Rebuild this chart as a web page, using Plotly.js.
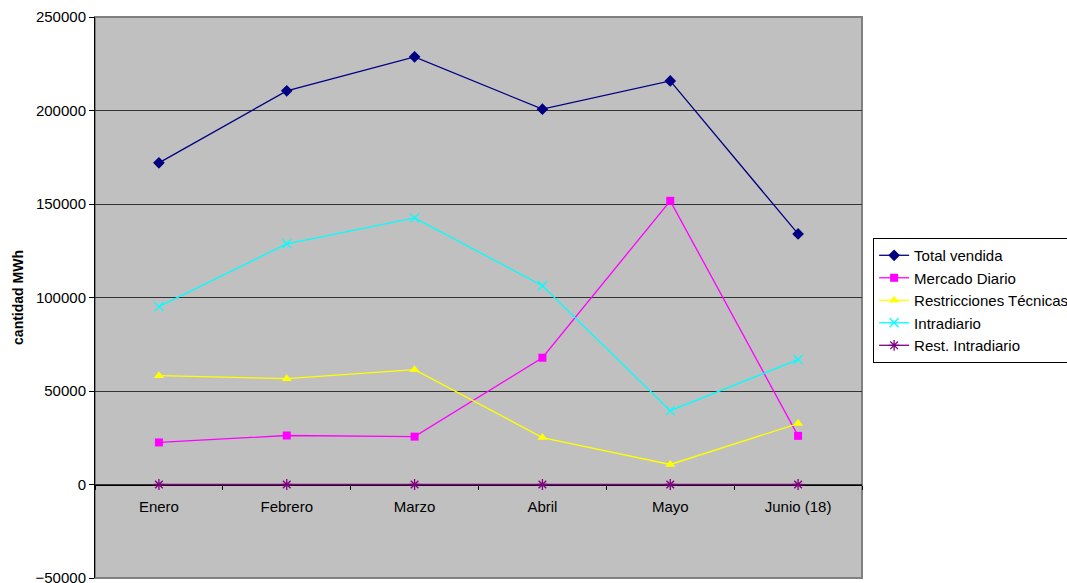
<!DOCTYPE html>
<html>
<head>
<meta charset="utf-8">
<script src="https://cdn.plot.ly/plotly-3.0.1.min.js"></script>
<style>
  html, body { margin: 0; padding: 0; background: #ffffff; }
  #chart { width: 1067px; height: 583px; }
</style>
</head>
<body>
<div id="chart"></div>
<script>
// Months of the period
const months = ['Enero', 'Febrero', 'Marzo', 'Abril', 'Mayo', 'Junio (18)'];

// Energy sold per market, MWh
const totalVendida = [172000, 210500, 228700, 200700, 215800, 134000];
const mercadoDiario = [22500, 26200, 25600, 67800, 151700, 26000];
const restriccionesTecnicas = [58200, 56600, 61400, 25100, 10700, 32600];
const intradiario = [95100, 128700, 142600, 106300, 39500, 66800];
const restIntradiario = [0, 0, 0, 0, 0, 0];

const seriesNames = ['Total vendida', 'Mercado Diario', 'Restricciones Técnicas', 'Intradiario', 'Rest. Intradiario'];
const seriesValues = [totalVendida, mercadoDiario, restriccionesTecnicas, intradiario, restIntradiario];

const styles = [
  { color: '#000080', symbol: 'diamond', size: 9, open: false },
  { color: '#FF00FF', symbol: 'square', size: 8, open: false },
  { color: '#FFFF00', symbol: 'triangle-up', size: 9, open: false },
  { color: '#00FFFF', symbol: 'x-thin-open', size: 9, open: true },
  { color: '#800080', symbol: 'asterisk-open', size: 9, open: true }
];

const traces = seriesNames.map((name, i) => {
  const s = styles[i];
  return {
    type: 'scatter',
    mode: 'lines+markers',
    name: name,
    x: months,
    y: seriesValues[i],
    line: { color: s.color, width: 1.3 },
    marker: s.open
      ? { symbol: s.symbol, size: s.size, color: s.color, line: { color: s.color, width: 1.3 } }
      : { symbol: s.symbol, size: s.size, color: s.color, line: { width: 0 } },
    cliponaxis: false,
    legendgroup: 'g' + i
  };
});

const yMin = -50000, yMax = 250000;
const font = { family: 'Liberation Sans, Arial, sans-serif', size: 15, color: '#000000' };

const layout = {
  width: 1067,
  height: 583,
  margin: { l: 95, r: 205, t: 17, b: 5, pad: 0, autoexpand: false },
  paper_bgcolor: '#ffffff',
  plot_bgcolor: '#C0C0C0',
  font: font,
  showlegend: true,
  legend: {
    x: 1.0145, xanchor: 'left',
    y: 0.606, yanchor: 'top',
    bgcolor: '#ffffff',
    bordercolor: '#000000',
    borderwidth: 1,
    font: font,
    traceorder: 'grouped',
    tracegroupgap: 0,
    itemwidth: 30
  },
  xaxis: {
    type: 'category',
    range: [-0.5, 5.5],
    anchor: 'free',
    position: (0 - yMin) / (yMax - yMin),
    showgrid: false,
    zeroline: false,
    showline: true,
    linecolor: '#000000',
    linewidth: 1,
    ticks: 'outside',
    tickson: 'boundaries',
    ticklen: 4,
    tickcolor: '#000000',
    tickfont: font,
    ticklabelstandoff: 8,
    layer: 'below traces',
    fixedrange: true
  },
  yaxis: {
    range: [yMin, yMax],
    dtick: 50000,
    tickformat: 'd',
    showgrid: true,
    gridcolor: '#333333',
    gridwidth: 1,
    zeroline: false,
    showline: true,
    linecolor: '#000000',
    linewidth: 1,
    ticks: 'outside',
    ticklen: 5,
    tickcolor: '#000000',
    tickfont: font,
    ticklabeloverflow: 'allow',
    title: { text: 'cantidad MWh', font: { family: font.family, size: 14, color: '#000000', weight: 'bold' }, standoff: 8 },
    fixedrange: true
  },
  shapes: [
    {
      type: 'rect', xref: 'paper', yref: 'paper',
      x0: 0, x1: 1, y0: 0, y1: 1,
      line: { color: '#808080', width: 2 },
      fillcolor: 'rgba(0,0,0,0)',
      layer: 'below'
    }
  ]
};

Plotly.newPlot('chart', traces, layout, { displayModeBar: false, staticPlot: true });
</script>
</body>
</html>
